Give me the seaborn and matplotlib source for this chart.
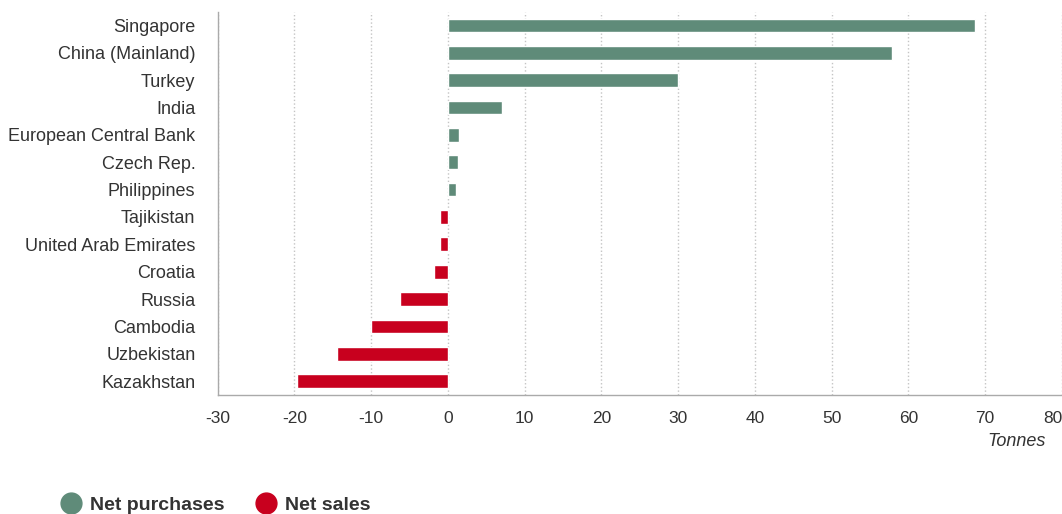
import numpy as np
import pandas as pd
import matplotlib.pyplot as plt
from matplotlib.lines import Line2D
import seaborn as sns

countries = ["Singapore", "China (Mainland)", "Turkey", "India", "European Central Bank",
             "Czech Rep.", "Philippines", "Tajikistan", "United Arab Emirates", "Croatia",
             "Russia", "Cambodia", "Uzbekistan", "Kazakhstan"]
tonnes = [68.6, 57.8, 30.0, 7.1, 1.5, 1.3, 1.1, -1.1, -1.1, -1.8, -6.2, -10.0, -14.5, -19.7]
x_ticks = [-30, -20, -10, 0, 10, 20, 30, 40, 50, 60, 70, 80]

green = "#5f8b79"
red = "#c8001e"

df = pd.DataFrame({"country": countries, "tonnes": tonnes})
df["kind"] = np.where(df["tonnes"] >= 0, "Net purchases", "Net sales")

sns.set_style("white")
plt.rcParams['font.family'] = ['Liberation Sans', 'DejaVu Sans']

fig = plt.figure(figsize=(10.62, 5.14), dpi=100)
ax = fig.add_axes([0.205, 0.232, 0.795, 0.745])

sns.barplot(data=df, x="tonnes", y="country", hue="kind", orient="h",
            palette={"Net purchases": green, "Net sales": red},
            dodge=False, width=0.5, saturation=1, legend=False, ax=ax)

ax.set_xlim(-30, 80)
ax.set_xticks(x_ticks)
ax.set_xticklabels([str(t) for t in x_ticks], fontsize=12.5, color="#333333")
ax.get_xticklabels()[-1].set_horizontalalignment("right")
ax.tick_params(axis="y", labelsize=13, colors="#333333", length=0, pad=16)
ax.tick_params(axis="x", length=4, direction="in", color="#cccccc", pad=12)
ax.set_xlabel("")
ax.set_ylabel("")
ax.set_axisbelow(True)
ax.xaxis.grid(True, linestyle=":", color="#c4c4c4", linewidth=1)
for s in ["top", "right"]:
    ax.spines[s].set_visible(False)
for s in ["left", "bottom"]:
    ax.spines[s].set_color("#aaaaaa")
    ax.spines[s].set_linewidth(1)

fig.text(0.985, 0.142, "Tonnes", ha="right", va="center", fontsize=13,
         style="italic", color="#333333")

handles = [Line2D([], [], marker="o", linestyle="", markersize=15, color=green),
           Line2D([], [], marker="o", linestyle="", markersize=15, color=red)]
leg = fig.legend(handles, ["Net purchases", "Net sales"], loc="lower left",
                 bbox_to_anchor=(0.032, -0.034), ncol=2, frameon=False,
                 prop={"weight": "bold", "size": 14}, handletextpad=0.0,
                 columnspacing=1.1)
for t in leg.get_texts():
    t.set_color("#333333")

fig.savefig("out.png", dpi=100)
